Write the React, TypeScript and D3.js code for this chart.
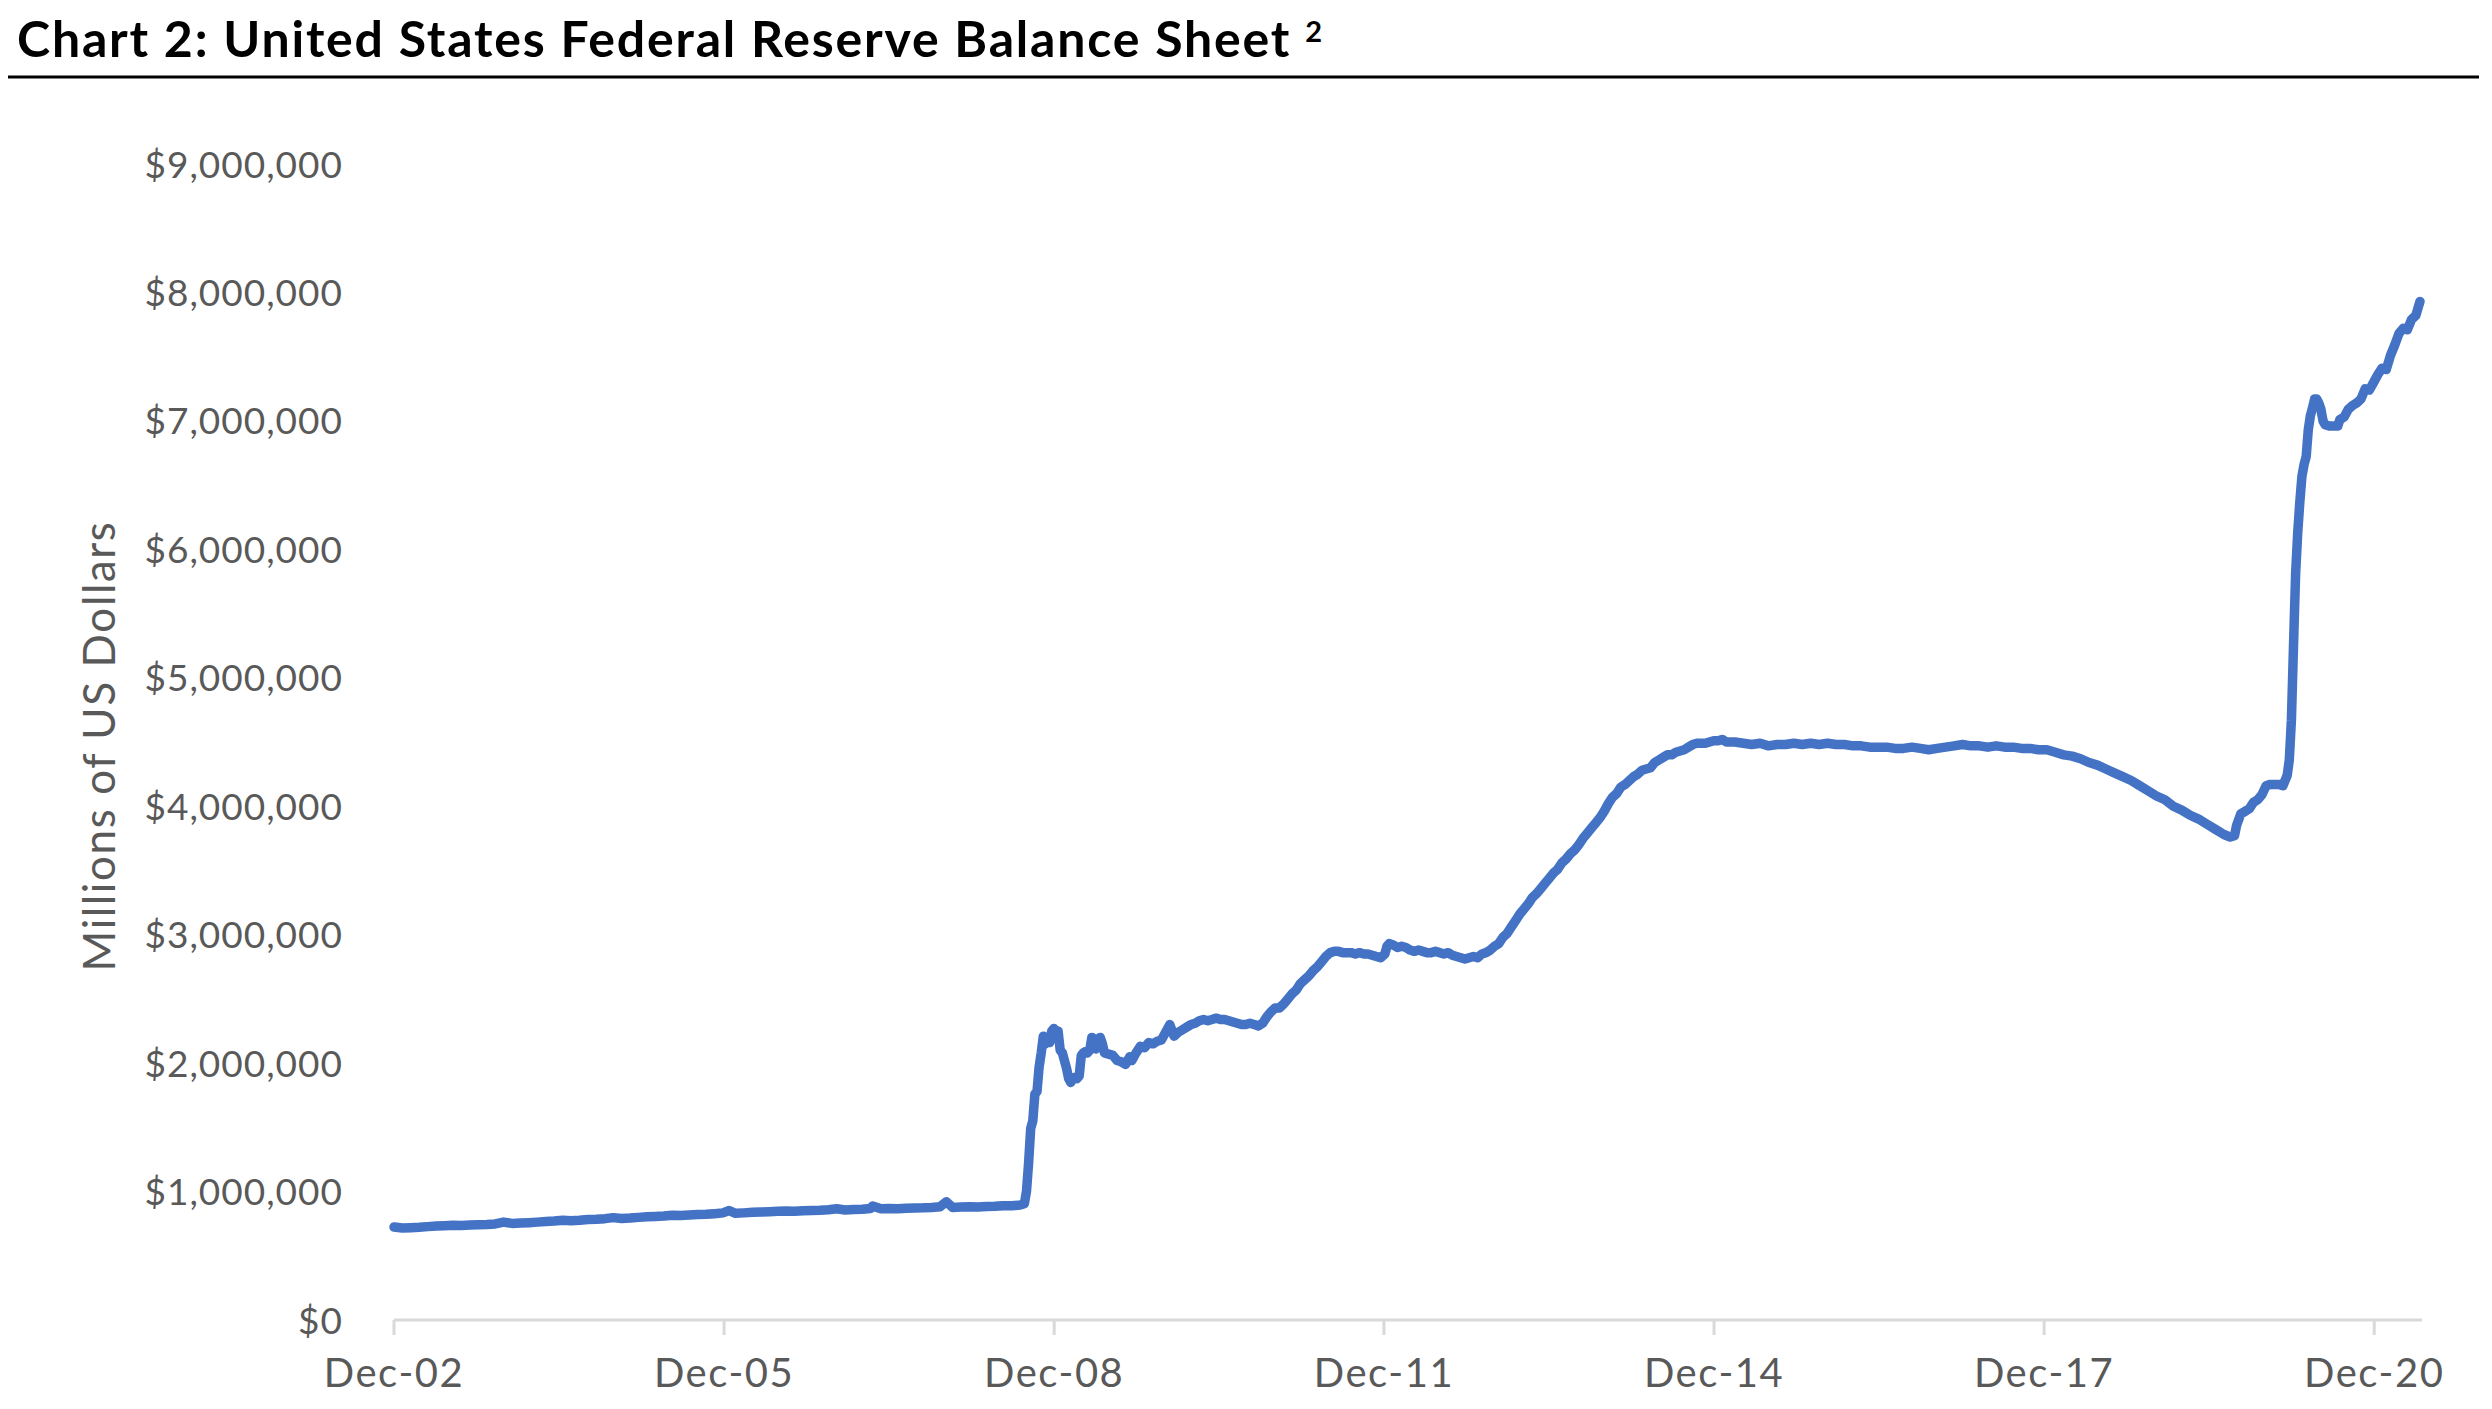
import React from "react";
import * as d3 from "d3";

// Weekly-sampled readings (millions of US dollars)
const dates: string[] = [
  "2002-12-18","2003-01-15","2003-02-12","2003-03-12","2003-04-09","2003-05-07","2003-06-04","2003-07-02","2003-07-30","2003-08-27","2003-09-24","2003-10-22","2003-11-19","2003-12-17",
  "2004-01-14","2004-02-11","2004-03-10","2004-04-07","2004-05-05","2004-06-02","2004-06-30","2004-07-28","2004-08-25","2004-09-22","2004-10-20","2004-11-17","2004-12-15",
  "2005-01-12","2005-02-09","2005-03-09","2005-04-06","2005-05-04","2005-06-01","2005-06-29","2005-07-27","2005-08-24","2005-09-21","2005-10-19","2005-11-16","2005-12-14",
  "2006-01-04","2006-01-25","2006-02-22","2006-03-22","2006-04-19","2006-05-17","2006-06-14","2006-07-12","2006-08-09","2006-09-06","2006-10-04","2006-11-01","2006-11-29","2006-12-27",
  "2007-01-24","2007-02-21","2007-03-21","2007-04-18","2007-04-25","2007-05-23","2007-06-20","2007-07-18","2007-08-15","2007-09-12","2007-10-10","2007-11-07","2007-12-05","2007-12-26",
  "2008-01-16","2008-02-13","2008-03-12","2008-04-09","2008-05-07","2008-06-04","2008-07-02","2008-07-30","2008-08-27","2008-09-10","2008-09-17","2008-09-24","2008-10-01","2008-10-08","2008-10-15","2008-10-22","2008-10-29","2008-11-05","2008-11-12","2008-11-19","2008-11-26","2008-12-03","2008-12-10","2008-12-17","2008-12-24","2008-12-31",
  "2009-01-07","2009-01-14","2009-01-21","2009-01-28","2009-02-04","2009-02-11","2009-02-18","2009-02-25","2009-03-04","2009-03-11","2009-03-18","2009-03-25","2009-04-01","2009-04-08","2009-04-15","2009-04-22","2009-04-29","2009-05-06","2009-05-13","2009-05-20","2009-05-27","2009-06-03","2009-06-17","2009-07-01","2009-07-15","2009-07-29","2009-08-12","2009-08-26","2009-09-02","2009-09-16","2009-09-30","2009-10-14","2009-10-28","2009-11-11","2009-11-25","2009-12-09","2009-12-23",
  "2010-01-06","2010-01-20","2010-02-03","2010-02-17","2010-03-03","2010-03-17","2010-03-31","2010-04-14","2010-04-28","2010-05-12","2010-05-26","2010-06-09","2010-06-23","2010-07-07","2010-07-21","2010-08-04","2010-08-18","2010-09-01","2010-09-15","2010-09-29","2010-10-13","2010-10-27","2010-11-10","2010-11-24","2010-12-08","2010-12-22",
  "2011-01-05","2011-01-19","2011-02-02","2011-02-16","2011-03-02","2011-03-16","2011-03-30","2011-04-13","2011-04-27","2011-05-11","2011-05-25","2011-06-08","2011-06-22","2011-07-06","2011-07-20","2011-08-03","2011-08-17","2011-08-31","2011-09-14","2011-09-28","2011-10-12","2011-10-26","2011-11-09","2011-11-23","2011-12-07","2011-12-21","2011-12-28",
  "2012-01-04","2012-01-18","2012-02-01","2012-02-15","2012-02-29","2012-03-14","2012-03-28","2012-04-11","2012-04-25","2012-05-09","2012-05-23","2012-06-06","2012-06-20","2012-07-04","2012-07-18","2012-08-01","2012-08-15","2012-08-29","2012-09-12","2012-09-26","2012-10-10","2012-10-24","2012-11-07","2012-11-21","2012-12-05","2012-12-19",
  "2013-01-02","2013-01-16","2013-01-30","2013-02-13","2013-02-27","2013-03-13","2013-03-27","2013-04-10","2013-04-24","2013-05-08","2013-05-22","2013-06-05","2013-06-19","2013-07-03","2013-07-17","2013-07-31","2013-08-14","2013-08-28","2013-09-11","2013-09-25","2013-10-09","2013-10-23","2013-11-06","2013-11-20","2013-12-04","2013-12-18",
  "2014-01-01","2014-01-15","2014-01-29","2014-02-12","2014-02-26","2014-03-12","2014-03-26","2014-04-09","2014-04-23","2014-05-07","2014-05-21","2014-06-04","2014-06-18","2014-07-02","2014-07-16","2014-07-30","2014-08-13","2014-08-27","2014-09-10","2014-09-24","2014-10-08","2014-10-22","2014-11-05","2014-11-19","2014-12-03","2014-12-17","2014-12-31",
  "2015-01-14","2015-01-28","2015-02-25","2015-03-25","2015-04-22","2015-05-20","2015-06-17","2015-07-15","2015-08-12","2015-09-09","2015-10-07","2015-11-04","2015-12-02","2015-12-30",
  "2016-01-27","2016-02-24","2016-03-23","2016-04-20","2016-05-18","2016-06-15","2016-07-13","2016-08-10","2016-09-07","2016-10-05","2016-11-02","2016-11-30","2016-12-28",
  "2017-01-25","2017-02-22","2017-03-22","2017-04-19","2017-05-17","2017-06-14","2017-07-12","2017-08-09","2017-09-06","2017-10-04","2017-11-01","2017-11-29","2017-12-27",
  "2018-01-24","2018-02-21","2018-03-21","2018-04-18","2018-05-16","2018-06-13","2018-07-11","2018-08-08","2018-09-05","2018-10-03","2018-10-31","2018-11-28","2018-12-26",
  "2019-01-23","2019-02-20","2019-03-20","2019-04-17","2019-05-15","2019-06-12","2019-07-10","2019-08-07","2019-08-28","2019-09-11","2019-09-18","2019-10-02","2019-10-16","2019-10-30","2019-11-13","2019-11-27","2019-12-11","2019-12-25",
  "2020-01-08","2020-01-22","2020-02-05","2020-02-19","2020-03-04","2020-03-11","2020-03-18","2020-03-25","2020-04-01","2020-04-08","2020-04-15","2020-04-22","2020-04-29","2020-05-06","2020-05-13","2020-05-20","2020-05-27","2020-06-03","2020-06-10","2020-06-17","2020-06-24","2020-07-01","2020-07-08","2020-07-22","2020-08-05","2020-08-19","2020-08-26","2020-09-09","2020-09-23","2020-10-07","2020-10-21","2020-11-04","2020-11-18","2020-12-02","2020-12-16","2020-12-30",
  "2021-01-13","2021-01-27","2021-02-10","2021-02-24","2021-03-10","2021-03-24","2021-04-07","2021-04-21","2021-05-05","2021-05-19",
];

const values: number[] = [
  724000,716000,719000,722000,727000,731000,734000,738000,735000,739000,742000,744000,748000,762000,
  752000,755000,758000,762000,767000,770000,776000,772000,776000,782000,784000,789000,797000,
  791000,794000,799000,803000,806000,810000,816000,813000,817000,821000,823000,828000,834000,
  852000,831000,834000,838000,841000,843000,846000,849000,847000,851000,853000,855000,859000,866000,
  857000,860000,863000,868000,888000,866000,868000,866000,870000,872000,873000,876000,882000,920000,
  876000,880000,882000,879000,884000,886000,890000,889000,895000,905000,1000000,1220000,1490000,1550000,1760000,1780000,1970000,2080000,2210000,2150000,2170000,2160000,2250000,2270000,2240000,2250000,
  2100000,2080000,2020000,1960000,1880000,1850000,1880000,1890000,1880000,1900000,2060000,2080000,2090000,2080000,2100000,2200000,2190000,2110000,2190000,2200000,2150000,2080000,2070000,2060000,2020000,2010000,1990000,2050000,2020000,2080000,2130000,2120000,2160000,2150000,2170000,2180000,2240000,
  2300000,2210000,2240000,2260000,2280000,2300000,2310000,2330000,2340000,2330000,2340000,2350000,2340000,2340000,2330000,2320000,2310000,2300000,2300000,2310000,2300000,2290000,2310000,2360000,2400000,2430000,
  2430000,2460000,2500000,2540000,2570000,2620000,2650000,2680000,2720000,2750000,2790000,2830000,2860000,2870000,2870000,2860000,2860000,2860000,2850000,2860000,2850000,2850000,2840000,2830000,2820000,2850000,2910000,
  2930000,2920000,2900000,2910000,2900000,2880000,2870000,2880000,2870000,2860000,2860000,2870000,2860000,2850000,2860000,2840000,2830000,2820000,2810000,2820000,2830000,2820000,2850000,2860000,2880000,2910000,
  2930000,2980000,3010000,3060000,3110000,3160000,3200000,3240000,3290000,3320000,3360000,3400000,3440000,3480000,3510000,3560000,3590000,3630000,3660000,3700000,3750000,3790000,3830000,3870000,3910000,3960000,
  4020000,4070000,4100000,4150000,4170000,4200000,4230000,4250000,4280000,4290000,4300000,4340000,4360000,4380000,4400000,4400000,4420000,4430000,4440000,4460000,4480000,4490000,4490000,4490000,4500000,4510000,4510000,
  4520000,4500000,4500000,4490000,4480000,4490000,4470000,4480000,4480000,4490000,4480000,4490000,4480000,4490000,
  4480000,4480000,4470000,4470000,4460000,4460000,4460000,4450000,4450000,4460000,4450000,4440000,4450000,
  4460000,4470000,4480000,4470000,4470000,4460000,4470000,4460000,4460000,4450000,4450000,4440000,4440000,
  4420000,4400000,4390000,4370000,4340000,4320000,4290000,4260000,4230000,4200000,4160000,4120000,4080000,
  4050000,4000000,3970000,3930000,3900000,3860000,3820000,3780000,3760000,3770000,3850000,3940000,3960000,3980000,4030000,4050000,4090000,4160000,
  4170000,4170000,4170000,4160000,4240000,4360000,4670000,5250000,5810000,6130000,6370000,6570000,6660000,6720000,6930000,7040000,7100000,7170000,7170000,7140000,7090000,7000000,6970000,6960000,6960000,6960000,7010000,7030000,7090000,7120000,7140000,7170000,7250000,7240000,7300000,7360000,
  7410000,7400000,7510000,7590000,7680000,7720000,7710000,7790000,7820000,7930000,
];

const yTicks: number[] = [0, 1000000, 2000000, 3000000, 4000000, 5000000, 6000000, 7000000, 8000000, 9000000];
const xTickDates: string[] = ["2002-12-18", "2005-12-18", "2008-12-18", "2011-12-18", "2014-12-18", "2017-12-18", "2020-12-18"];
const xTickLabels: string[] = ["Dec-02", "Dec-05", "Dec-08", "Dec-11", "Dec-14", "Dec-17", "Dec-20"];

const titleText = "Chart 2: United States Federal Reserve Balance Sheet";
const titleSup = "2";
const yTitle = "Millions of US Dollars";

export default function App() {
  const W = 2492, H = 1409;
  const parse = d3.utcParse("%Y-%m-%d");
  const pts: [Date, number][] = dates.map((d, i) => [parse(d) as Date, values[i]]);
  const x = d3.scaleUtc().domain([pts[0][0], pts[pts.length - 1][0]]).range([394, 2420]);
  const y = d3.scaleLinear().domain([0, 9000000]).range([1320, 164]);
  const line = d3.line<[Date, number]>().x(d => x(d[0])).y(d => y(d[1]));
  const fmt = (v: number) => "$" + d3.format(",")(v);
  const font = "Lato, 'Open Sans', sans-serif";
  const grey = "#595959";

  return (
    <div style={{ position: "fixed", left: 0, top: 0, width: W, height: H, background: "#fff" }}>
      <svg width={W} height={H} style={{ display: "block" }}>
        <text x={17} y={57} fontFamily={font} fontWeight={700} fontSize={50} fill="#000" letterSpacing={1.8}>
          {titleText}
          <tspan dx={14} dy={-15} fontSize={29}>{titleSup}</tspan>
        </text>
        <line x1={8} x2={2479} y1={77} y2={77} stroke="#000" strokeWidth={3} />

        {yTicks.map(t => (
          <text key={t} x={343} y={y(t) + 13.5} textAnchor="end" fontFamily={font} fontSize={37} fill={grey} letterSpacing={1}>
            {fmt(t)}
          </text>
        ))}

        <text transform={`translate(115,746) rotate(-90)`} textAnchor="middle" fontFamily={font} fontSize={44} fill={grey} letterSpacing={1.6}>
          {yTitle}
        </text>

        <line x1={x.range()[0]} x2={x.range()[1] + 2} y1={y(0)} y2={y(0)} stroke="#d9d9d9" strokeWidth={3} />
        {xTickDates.map((d, i) => {
          const xx = x(parse(d) as Date);
          return (
            <g key={d}>
              <line x1={xx} x2={xx} y1={y(0)} y2={y(0) + 15} stroke="#d9d9d9" strokeWidth={3} />
              <text x={xx} y={1387} textAnchor="middle" fontFamily={font} fontSize={40} fill={grey} letterSpacing={1.5}>
                {xTickLabels[i]}
              </text>
            </g>
          );
        })}

        <path d={line(pts) || ""} fill="none" stroke="#4472C4" strokeWidth={9.5} strokeLinejoin="round" strokeLinecap="round" />
      </svg>
    </div>
  );
}
